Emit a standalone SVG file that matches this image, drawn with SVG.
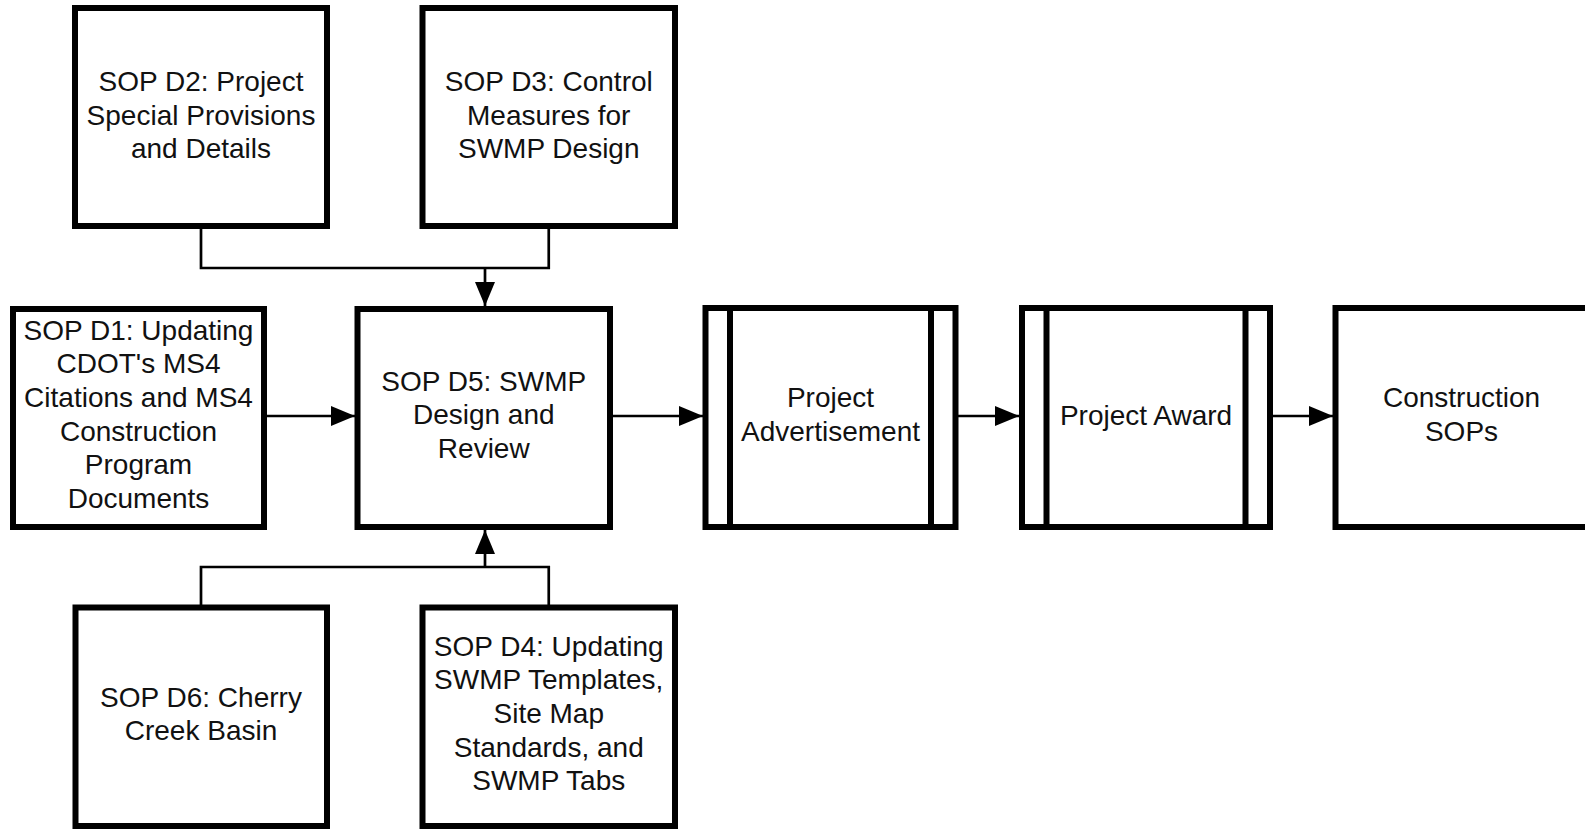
<svg xmlns="http://www.w3.org/2000/svg" width="1585" height="830" viewBox="0 0 1585 830">
  <style>
    .box { fill: #ffffff; stroke: #000000; stroke-width: 6; }
    .bar { fill: none; stroke: #000000; stroke-width: 6; }
    .link { fill: none; stroke: #000000; stroke-width: 2.7; }
    .label { font-family: "Liberation Sans", Arial, sans-serif; font-size: 28px; fill: #111111; text-anchor: middle; }
  </style>
  <defs>
    <marker id="arrow" markerUnits="userSpaceOnUse" markerWidth="24" markerHeight="20" viewBox="0 0 24 20" refX="24" refY="10" orient="auto">
      <polygon points="0,0 24,10 0,20" fill="#000000"/>
    </marker>
  </defs>
  <rect x="0" y="0" width="1585" height="830" fill="#ffffff"/>

  <!-- connectors -->
  <g id="connectors">
    <polyline class="link" points="201,226 201,268 548.75,268 548.75,226"/>
    <line class="link" x1="485" y1="268" x2="485" y2="306" marker-end="url(#arrow)"/>
    <polyline class="link" points="201,607 201,567 548.75,567 548.75,607"/>
    <line class="link" x1="485" y1="567" x2="485" y2="530" marker-end="url(#arrow)"/>
    <line class="link" x1="267" y1="416" x2="355" y2="416" marker-end="url(#arrow)"/>
    <line class="link" x1="613" y1="416" x2="703" y2="416" marker-end="url(#arrow)"/>
    <line class="link" x1="958" y1="416" x2="1019" y2="416" marker-end="url(#arrow)"/>
    <line class="link" x1="1273" y1="416" x2="1333" y2="416" marker-end="url(#arrow)"/>
  </g>

  <!-- SOP D2 -->
  <g id="sop-d2">
    <rect class="box" x="75" y="8" width="252" height="218"/>
    <text class="label" x="201"><tspan x="201" y="91">SOP D2: Project</tspan><tspan x="201" y="124.6">Special Provisions</tspan><tspan x="201" y="158.2">and Details</tspan></text>
  </g>

  <!-- SOP D3 -->
  <g id="sop-d3">
    <rect class="box" x="422.5" y="8" width="252.5" height="218"/>
    <text class="label" x="548.75"><tspan x="548.75" y="91">SOP D3: Control</tspan><tspan x="548.75" y="124.6">Measures for</tspan><tspan x="548.75" y="158.2">SWMP Design</tspan></text>
  </g>

  <!-- SOP D1 -->
  <g id="sop-d1">
    <rect class="box" x="13" y="309" width="251" height="218"/>
    <text class="label" x="138.5"><tspan x="138.5" y="339.5">SOP D1: Updating</tspan><tspan x="138.5" y="373.2">CDOT's MS4</tspan><tspan x="138.5" y="406.9">Citations and MS4</tspan><tspan x="138.5" y="440.6">Construction</tspan><tspan x="138.5" y="474.3">Program</tspan><tspan x="138.5" y="508">Documents</tspan></text>
  </g>

  <!-- SOP D5 -->
  <g id="sop-d5">
    <rect class="box" x="357.5" y="309" width="252.5" height="218"/>
    <text class="label" x="483.75"><tspan x="483.75" y="390.5">SOP D5: SWMP</tspan><tspan x="483.75" y="424.2">Design and</tspan><tspan x="483.75" y="457.9">Review</tspan></text>
  </g>

  <!-- Project Advertisement -->
  <g id="project-advertisement">
    <rect class="box" x="705.5" y="308" width="250" height="219"/>
    <line class="bar" x1="730" y1="308" x2="730" y2="527"/>
    <line class="bar" x1="931" y1="308" x2="931" y2="527"/>
    <text class="label" x="830.5"><tspan x="830.5" y="407">Project</tspan><tspan x="830.5" y="440.6">Advertisement</tspan></text>
  </g>

  <!-- Project Award -->
  <g id="project-award">
    <rect class="box" x="1022" y="308" width="248" height="219"/>
    <line class="bar" x1="1046.5" y1="308" x2="1046.5" y2="527"/>
    <line class="bar" x1="1245.5" y1="308" x2="1245.5" y2="527"/>
    <text class="label" x="1146" y="424.5">Project Award</text>
  </g>

  <!-- Construction SOPs -->
  <g id="construction-sops">
    <rect class="box" x="1335.5" y="308" width="252.5" height="219"/>
    <text class="label" x="1461.5"><tspan x="1461.5" y="407">Construction</tspan><tspan x="1461.5" y="440.6">SOPs</tspan></text>
  </g>

  <!-- SOP D6 -->
  <g id="sop-d6">
    <rect class="box" x="75.5" y="607.5" width="251.5" height="218.5"/>
    <text class="label" x="201"><tspan x="201" y="706.5">SOP D6: Cherry</tspan><tspan x="201" y="740.2">Creek Basin</tspan></text>
  </g>

  <!-- SOP D4 -->
  <g id="sop-d4">
    <rect class="box" x="422.5" y="607.5" width="252.5" height="218.5"/>
    <text class="label" x="548.75"><tspan x="548.75" y="655.5">SOP D4: Updating</tspan><tspan x="548.75" y="689.2">SWMP Templates,</tspan><tspan x="548.75" y="722.9">Site Map</tspan><tspan x="548.75" y="756.6">Standards, and</tspan><tspan x="548.75" y="790.3">SWMP Tabs</tspan></text>
  </g>
</svg>
